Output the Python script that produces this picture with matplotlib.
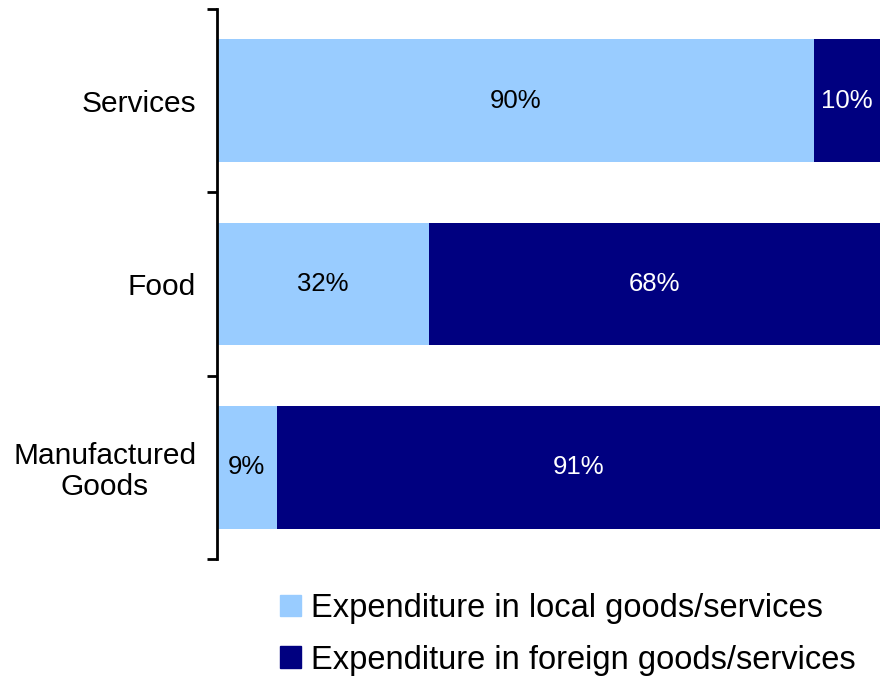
import numpy as np
import matplotlib.pyplot as plt
from matplotlib.patches import Patch

plt.rcParams['font.family'] = ['Liberation Sans', 'DejaVu Sans']

categories = ['Services', 'Food', 'Manufactured\nGoods']
local = [90, 32, 9]
foreign = [10, 68, 91]

light = '#99CCFF'
dark = '#000080'

fig = plt.figure(figsize=(8.8, 6.77), dpi=100)
ax = fig.add_axes([0.2466, 0.1743, 0.7534, 0.8124])

y = np.arange(len(categories))[::-1]
ax.barh(y, local, height=0.67, color=light)
ax.barh(y, foreign, left=local, height=0.67, color=dark)

for yi, a, b in zip(y, local, foreign):
    ax.text(a / 2, yi, f'{a}%', ha='center', va='center', fontsize=18.5, color='black')
    ax.text(a + b / 2, yi, f'{b}%', ha='center', va='center', fontsize=18.5, color='white')

ax.set_xlim(0, 100)
ax.set_ylim(-0.5, 2.5)
ax.set_xticks([])
ax.set_yticks(y)
ax.set_yticklabels(categories, fontsize=21.5, ha='right', multialignment='center',
                   linespacing=1.1)
ax.tick_params(axis='y', which='major', length=0, pad=15)
ax.set_yticks([-0.5, 0.5, 1.5, 2.5], minor=True)
ax.tick_params(axis='y', which='minor', length=7, width=2)
for s in ['top', 'right', 'bottom']:
    ax.spines[s].set_visible(False)
ax.spines['left'].set_linewidth(2)

handles = [Patch(color=light, label='Expenditure in local goods/services'),
           Patch(color=dark, label='Expenditure in foreign goods/services')]
fig.legend(handles=handles, loc='upper left', bbox_to_anchor=(280 / 880, 1 - 593 / 677),
           frameon=False, fontsize=23.5, handlelength=0.64, handleheight=0.64,
           handletextpad=0.3, labelspacing=0.63, borderpad=0, borderaxespad=0)

fig.savefig('out.png', dpi=100)
